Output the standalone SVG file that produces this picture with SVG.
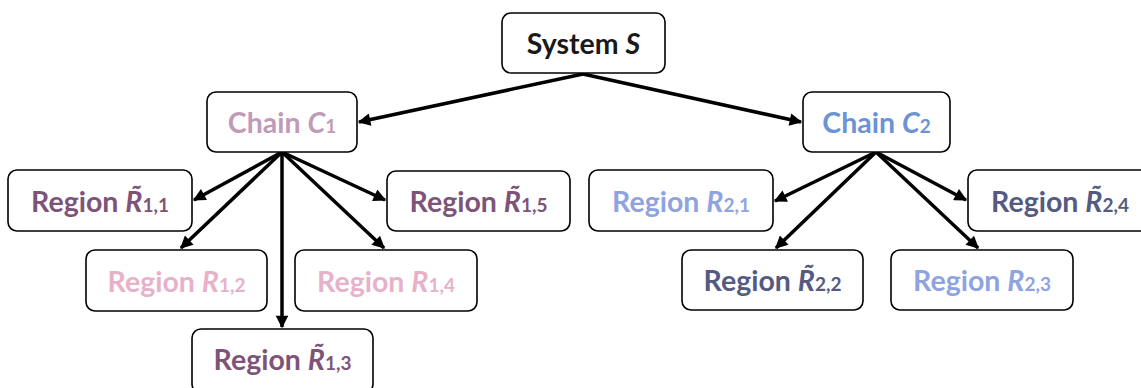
<svg xmlns="http://www.w3.org/2000/svg" width="1141" height="388" viewBox="0 0 1141 388">
  <style>
    .box { fill: #ffffff; stroke: #000000; stroke-width: 1.6; }
    .lbl { font-family: Lato, "Open Sans", "Liberation Sans", sans-serif; font-weight: bold; font-size: 28.5px; text-anchor: middle; }
    .sub { font-size: 19px; font-style: normal; }
    .var { font-style: italic; }
    .edge { stroke: #000000; stroke-width: 3.5; fill: none; marker-end: url(#head); }
    .c-sys { fill: #1a1a1a; }
    .c-ch1 { fill: #c09bb8; }
    .c-ch2 { fill: #6b93d6; }
    .c-dm { fill: #7d5478; }
    .c-lp { fill: #e7b1c9; }
    .c-lb { fill: #8ea3df; }
    .c-ds { fill: #555a80; }
  </style>
  <defs>
    <marker id="head" viewBox="0 0 10 10" refX="9" refY="5" markerWidth="4.2" markerHeight="3.6" orient="auto" markerUnits="strokeWidth">
      <path d="M0,0 L10,5 L0,10 z" fill="#000000"/>
    </marker>
  </defs>

  <!-- connectors -->
  <g id="connectors">
    <line class="edge" x1="583" y1="74" x2="359" y2="122"/>
    <line class="edge" x1="583" y1="74" x2="801" y2="122"/>
    <line class="edge" x1="282" y1="152" x2="194" y2="200"/>
    <line class="edge" x1="282" y1="152" x2="181" y2="248"/>
    <line class="edge" x1="282" y1="152" x2="282" y2="327"/>
    <line class="edge" x1="282" y1="152" x2="384" y2="248"/>
    <line class="edge" x1="282" y1="152" x2="385" y2="200"/>
    <line class="edge" x1="876" y1="152" x2="775" y2="201"/>
    <line class="edge" x1="876" y1="152" x2="776" y2="248"/>
    <line class="edge" x1="876" y1="152" x2="978" y2="248"/>
    <line class="edge" x1="876" y1="152" x2="966" y2="200"/>
  </g>

  <!-- System S -->
  <g id="system">
    <rect class="box" x="502" y="13" width="163" height="60" rx="9"/>
    <text class="lbl c-sys" x="583.5" y="54">System <tspan class="var">S</tspan></text>
  </g>

  <!-- Chains -->
  <g id="chain1">
    <rect class="box" x="207" y="92" width="150" height="60" rx="9"/>
    <text class="lbl c-ch1" x="282" y="133">Chain <tspan class="var">C</tspan><tspan class="sub">1</tspan></text>
  </g>
  <g id="chain2">
    <rect class="box" x="803" y="92" width="147" height="60" rx="9"/>
    <text class="lbl c-ch2" x="876.5" y="133">Chain <tspan class="var">C</tspan><tspan class="sub">2</tspan></text>
  </g>

  <!-- Regions of chain 1 -->
  <g id="r11">
    <rect class="box" x="8" y="170" width="184" height="61" rx="9"/>
    <text class="lbl c-dm" x="100" y="211.5">Region <tspan class="var">R̃</tspan><tspan class="sub">1,1</tspan></text>
  </g>
  <g id="r12">
    <rect class="box" x="86" y="250" width="181" height="61" rx="9"/>
    <text class="lbl c-lp" x="176.5" y="291.5">Region <tspan class="var">R</tspan><tspan class="sub">1,2</tspan></text>
  </g>
  <g id="r13">
    <rect class="box" x="192" y="329" width="181" height="64" rx="9"/>
    <text class="lbl c-dm" x="282.5" y="370">Region <tspan class="var">R̃</tspan><tspan class="sub">1,3</tspan></text>
  </g>
  <g id="r14">
    <rect class="box" x="295" y="250" width="182" height="61" rx="9"/>
    <text class="lbl c-lp" x="386" y="291.5">Region <tspan class="var">R</tspan><tspan class="sub">1,4</tspan></text>
  </g>
  <g id="r15">
    <rect class="box" x="387" y="171" width="183" height="60" rx="9"/>
    <text class="lbl c-dm" x="478.5" y="211.5">Region <tspan class="var">R̃</tspan><tspan class="sub">1,5</tspan></text>
  </g>

  <!-- Regions of chain 2 -->
  <g id="r21">
    <rect class="box" x="589" y="170" width="184" height="61" rx="9"/>
    <text class="lbl c-lb" x="681" y="211.5">Region <tspan class="var">R</tspan><tspan class="sub">2,1</tspan></text>
  </g>
  <g id="r22">
    <rect class="box" x="682" y="250" width="181" height="60" rx="9"/>
    <text class="lbl c-ds" x="772.5" y="291">Region <tspan class="var">R̃</tspan><tspan class="sub">2,2</tspan></text>
  </g>
  <g id="r23">
    <rect class="box" x="891" y="250" width="182" height="60" rx="9"/>
    <text class="lbl c-lb" x="982" y="291">Region <tspan class="var">R</tspan><tspan class="sub">2,3</tspan></text>
  </g>
  <g id="r24">
    <rect class="box" x="968" y="170" width="184" height="61" rx="9"/>
    <text class="lbl c-ds" x="1060" y="211.5">Region <tspan class="var">R̃</tspan><tspan class="sub">2,4</tspan></text>
  </g>
</svg>
